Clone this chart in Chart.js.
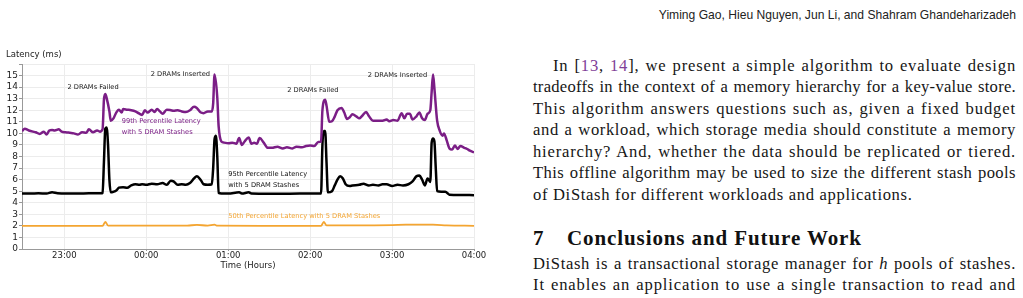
<!DOCTYPE html>
<html><head><meta charset="utf-8">
<script src="https://cdn.jsdelivr.net/npm/chart.js@4.4.1/dist/chart.umd.min.js"></script>
<style>
html,body{margin:0;padding:0;background:#fff;width:1023px;height:298px;overflow:hidden;position:relative}
#chartBox{position:absolute;left:0;top:0;width:500px;height:285px}
#header{position:absolute;right:7px;top:7px;font-family:"Liberation Sans";font-size:12.1px;color:#222;white-space:nowrap;line-height:16px}
.tl{position:absolute;left:533px;width:483px;font-family:"Liberation Serif";font-size:16.6px;line-height:21.5px;height:21.5px;white-space:nowrap;color:#161616}
.cite{color:#7f3f98}
#heading{position:absolute;left:533px;top:226px;font-family:"Liberation Serif";font-weight:bold;font-size:21px;line-height:24px;white-space:nowrap;color:#111;letter-spacing:0.9px}
#heading .num{display:inline-block;width:34px;letter-spacing:0}
</style>
</head><body>
<div id="chartBox"><canvas id="c" width="500" height="285"></canvas></div>
<div id="header">Yiming Gao, Hieu Nguyen, Jun Li, and Shahram Ghandeharizadeh</div>
<div class="tl j" style="top:54.75px;padding-left:20px;width:463px"><span>In [<span class="cite">13</span>, <span class="cite">14</span>], we present a simple algorithm to evaluate design</span></div>
<div class="tl j" style="top:76.25px"><span>tradeoffs in the context of a memory hierarchy for a key-value store.</span></div>
<div class="tl j" style="top:97.75px"><span>This algorithm answers questions such as, given a fixed budget</span></div>
<div class="tl j" style="top:119.25px"><span>and a workload, which storage media should constitute a memory</span></div>
<div class="tl j" style="top:140.75px"><span>hierarchy? And, whether the data should be replicated or tiered.</span></div>
<div class="tl j" style="top:162.25px"><span>This offline algorithm may be used to size the different stash pools</span></div>
<div class="tl nj" style="top:183.75px"><span>of DiStash for different workloads and applications.</span></div>
<div id="heading"><span class="num">7</span>Conclusions and Future Work</div>
<div class="tl j" style="top:252.75px"><span>DiStash is a transactional storage manager for <i>h</i> pools of stashes.</span></div>
<div class="tl j" style="top:274.25px"><span>It enables an application to use a single transaction to read and</span></div>
<script>
// ---- axis ticks ----
const timeTicks = ['23:00','00:00','01:00','02:00','03:00','04:00'];
const xRange = ['22:29','04:00'];
const yTicks = [0,1,2,3,4,5,6,7,8,9,10,11,12,13,14,15];
const yMax = 16;

// ---- 99th percentile latency (ms) ----
const t99 = [
 '22:29','22:31','22:34','22:37','22:39','22:42','22:45','22:47','22:49','22:51',
 '22:53','22:56','22:58','23:01','23:04','23:07','23:10','23:13','23:16','23:18',
 '23:21','23:24','23:26','23:28','23:29','23:30','23:31','23:33','23:34','23:36',
 '23:38','23:40','23:42','23:43','23:46','23:49','23:52','23:55','23:57','23:59',
 '00:01','00:04','00:06','00:08','00:10','00:12','00:15','00:18','00:20','00:23',
 '00:26','00:29','00:32','00:35','00:37','00:40','00:42','00:45','00:48','00:49',
 '00:50','00:52','00:53','00:55','00:57','01:00','01:03','01:06','01:08','01:10',
 '01:12','01:15','01:17','01:19','01:21','01:23','01:26','01:29','01:32','01:36',
 '01:40','01:43','01:47','01:50','01:54','01:57','02:00','02:03','02:06','02:08',
 '02:09','02:11','02:12','02:14','02:16','02:18','02:20','02:23','02:25','02:27',
 '02:29','02:31','02:34','02:36','02:38','02:41','02:43','02:46','02:50','02:53',
 '02:56','02:58','03:01','03:04','03:07','03:09','03:11','03:13','03:15','03:18',
 '03:20','03:22','03:24','03:26','03:28','03:29','03:30','03:31','03:33','03:35',
 '03:37','03:38','03:40','03:42','03:44','03:46','03:48','03:50','03:53','03:55',
 '03:57','04:00'
];
const v99 = [
 10.2,10.4,10.25,10.15,10.1,9.95,10.15,9.9,10.25,10.3,
 10.25,10.35,10.15,10.1,10.05,10.0,9.9,10.1,10.05,10.35,
 10.1,10.25,10.15,10.35,12.9,13.4,13.05,11.9,11.1,11.3,
 11.8,12.05,11.8,12.1,12.05,12.0,11.9,11.7,11.6,12.0,
 11.8,12.05,11.85,12.1,11.9,11.7,12.05,12.0,11.95,12.0,
 11.9,11.85,12.0,12.3,12.2,11.8,11.75,11.9,11.9,12.6,
 15.1,13.1,10.6,9.3,9.2,9.15,9.2,9.1,9.6,9.0,
 9.3,9.65,9.1,9.2,9.1,9.6,9.2,8.75,8.75,8.85,
 8.7,8.8,8.7,8.85,8.8,8.9,8.95,8.9,9.25,9.3,
 12.0,12.9,12.4,11.0,11.05,11.45,12.0,12.2,11.8,11.25,
 11.4,11.65,11.45,11.3,11.5,11.85,11.5,11.1,11.1,11.1,
 11.2,11.05,11.15,11.1,11.75,11.3,11.7,11.7,11.2,11.5,
 11.8,11.3,11.15,11.7,12.0,13.6,15.1,13.9,11.1,10.2,
 9.8,10.0,9.4,8.7,8.6,8.95,8.65,8.9,8.75,8.65,
 8.5,8.35
];

// ---- 95th percentile latency (ms) ----
const t95 = [
 '22:29','22:35','22:41','22:47','22:51','22:55','23:02','23:10','23:18','23:27',
 '23:28','23:29','23:30','23:31','23:32','23:33','23:34','23:36','23:38','23:40',
 '23:43','23:46','23:49','23:52','23:55','23:57','00:00','00:04','00:08','00:12',
 '00:15','00:18','00:20','00:23','00:26','00:29','00:32','00:35','00:37','00:40',
 '00:42','00:45','00:48','00:49','00:50','00:51','00:52','00:53','00:55','01:00',
 '01:08','01:10','01:15','01:17','01:30','01:45','02:00','02:08','02:09','02:10',
 '02:11','02:12','02:13','02:16','02:18','02:20','02:22','02:24','02:26','02:29',
 '02:31','02:36','02:39','02:43','02:46','02:50','02:53','02:56','03:00','03:04',
 '03:08','03:12','03:15','03:18','03:20','03:22','03:24','03:26','03:28','03:29',
 '03:30','03:31','03:32','03:33','03:36','03:39','03:42','03:50','04:00'
];
const v95 = [
 4.8,4.8,4.82,4.8,4.9,4.82,4.8,4.8,4.82,4.82,
 4.85,7.5,10.4,10.5,9.0,6.0,4.9,4.95,5.05,5.3,
 5.35,5.3,5.5,5.6,5.55,5.6,5.55,5.65,5.6,5.7,
 5.55,5.9,5.85,5.55,5.6,5.55,5.7,6.1,6.3,5.95,
 5.6,5.55,5.6,7.0,9.5,9.8,8.0,4.85,4.8,4.8,
 4.9,4.8,4.9,4.8,4.78,4.78,4.8,4.8,9.0,10.2,
 10.2,7.5,4.9,5.0,5.5,6.0,6.3,6.1,5.6,5.45,
 5.5,5.55,5.65,5.5,5.55,5.5,5.6,5.6,5.45,5.55,
 5.5,5.6,5.85,6.3,6.35,6.0,5.5,6.1,5.8,9.2,
 9.55,9.3,7.0,5.0,4.95,4.95,4.7,4.68,4.65
];

// ---- 50th percentile latency (ms) ----
const t50 = [
 '22:29','23:00','23:28','23:30','23:32','00:00','00:30','00:37','00:45','00:50',
 '00:52','01:30','02:08','02:10','02:12','02:30','03:00','03:10','03:20','03:30',
 '03:40','04:00'
];
const v50 = [
 2.0,2.0,2.0,2.35,2.02,2.02,2.03,2.08,2.03,2.1,
 2.02,2.0,2.0,2.35,2.05,2.05,2.07,2.1,2.1,2.1,
 2.05,2.0
];

// ---- annotations ----
const noteTexts = ['2 DRAMs Failed','2 DRAMs Inserted','2 DRAMs Failed','2 DRAMs Inserted',
  '99th Percentile Latency','with 5 DRAM Stashes','95th Percentile Latency','with 5 DRAM Stashes',
  '50th Percentile Latency with 5 DRAM Stashes'];
const noteTimes = ['23:21','00:25','02:02','03:04','23:42','23:42','01:00','01:00','01:00'];
const noteValues = [14.0,15.1,13.75,15.05,11.05,10.1,6.5,5.55,2.85];
const noteAlign = ['center','center','center','center','left','left','left','left','left'];

const C99 = '#7b1e86', C95 = '#000000', C50 = '#f4a531';
const noteColors = ['#222','#222','#222','#222',C99,C99,'#111','#111',C50];

function toMin(s){ const p = s.split(':').map(Number); const h = p[0] < 12 ? p[0] + 24 : p[0]; return (h - 22) * 60 + p[1]; }
function pts(ts, vs){ return ts.map((t,i)=>({x:toMin(t), y:vs[i]})); }

const FONT = '"DejaVu Sans"';

const textPlugin = {
  id:'texts',
  afterDatasetsDraw(chart){
    const {ctx, chartArea, scales} = chart;
    ctx.save();
    ctx.font = '6.7px ' + FONT;
    ctx.textBaseline = 'middle';
    noteTexts.forEach((txt,i)=>{
      ctx.fillStyle = noteColors[i];
      ctx.textAlign = noteAlign[i];
      ctx.fillText(txt, scales.x.getPixelForValue(toMin(noteTimes[i])), scales.y.getPixelForValue(noteValues[i]));
    });
    ctx.font = '8.5px ' + FONT;
    ctx.fillStyle = '#222';
    ctx.textAlign = 'left';
    ctx.fillText('Latency (ms)', chartArea.left - 16, chartArea.top - 9);
    ctx.textAlign = 'center';
    ctx.fillText('Time (Hours)', (chartArea.left + chartArea.right) / 2, chartArea.bottom + 17);
    ctx.restore();
  }
};

new Chart(document.getElementById('c'), {
  type:'line',
  data:{datasets:[
    {label:'99th', data:pts(t99,v99), borderColor:C99, borderWidth:2.5, pointRadius:0, cubicInterpolationMode:'monotone'},
    {label:'95th', data:pts(t95,v95), borderColor:C95, borderWidth:2.5, pointRadius:0, cubicInterpolationMode:'monotone'},
    {label:'50th', data:pts(t50,v50), borderColor:C50, borderWidth:1.8, pointRadius:0, cubicInterpolationMode:'monotone'}
  ]},
  options:{
    responsive:false, animation:false, devicePixelRatio:1,
    layout:{padding:{top:64, right:26, left:0, bottom:0}},
    plugins:{legend:{display:false}, tooltip:{enabled:false}},
    scales:{
      x:{type:'linear', min:toMin(xRange[0]), max:toMin(xRange[1]),
        afterBuildTicks(s){ s.ticks = timeTicks.map(t=>({value:toMin(t)})); },
        afterFit(s){ s.height = 36; },
        ticks:{autoSkip:false, maxRotation:0, padding:0, color:'#222', font:{family:FONT, size:8.5},
          callback(v,i){ return timeTicks[i]; }},
        grid:{color:'#ececec', tickLength:2, tickColor:'#999'},
        border:{color:'#999'}
      },
      y:{min:0, max:yMax,
        afterBuildTicks(s){ s.ticks = yTicks.concat([yMax]).map(v=>({value:v})); },
        afterFit(s){ s.width = 22; },
        ticks:{autoSkip:false, padding:1, color:'#222', font:{family:FONT, size:9},
          callback(v){ return yTicks.includes(v) ? String(v) : ''; }},
        grid:{color:'#ececec', tickLength:3, tickColor:'#999'},
        border:{color:'#999'}
      }
    }
  },
  plugins:[textPlugin]
});

// justify text lines to the column width (letter- and word-spacing)
let lsSum = 0, lsN = 0;
document.querySelectorAll('.j').forEach(el=>{
  const span = el.firstElementChild;
  const target = el.clientWidth - (parseFloat(el.style.paddingLeft)||0);
  const text = span.textContent;
  const n = (text.match(/ /g)||[]).length;
  let w = span.getBoundingClientRect().width;
  let ls = (target - w - n * 1.0) / text.length;
  ls = Math.max(-0.3, Math.min(1.0, ls));
  el.style.letterSpacing = ls + 'px';
  lsSum += ls; lsN++;
  w = span.getBoundingClientRect().width;
  if(n) el.style.wordSpacing = ((target - w) / n) + 'px';
});
document.querySelectorAll('.nj').forEach(el=>{ el.style.letterSpacing = (lsSum / lsN) + 'px'; });
</script>
</body></html>
